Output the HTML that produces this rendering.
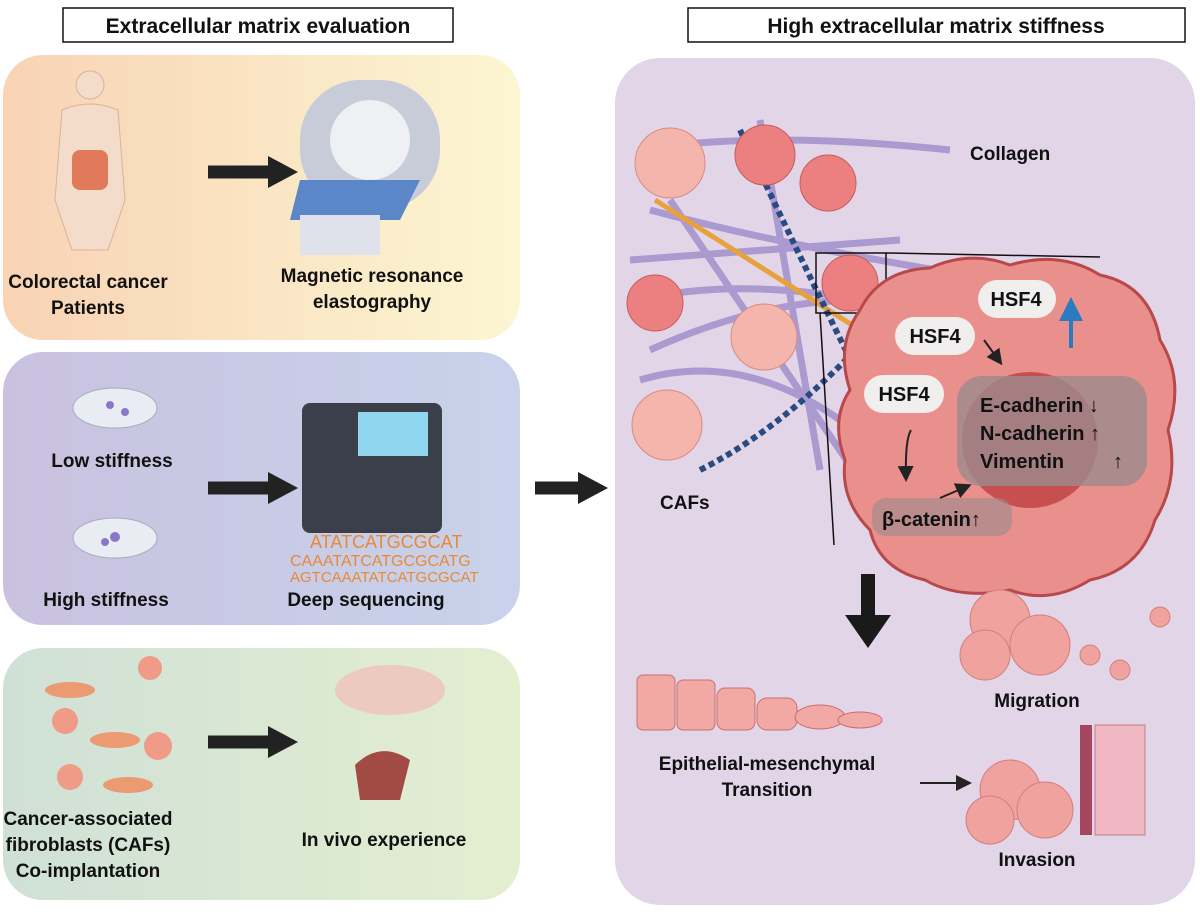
<!DOCTYPE html>
<html><head><meta charset="utf-8"><style>
body{margin:0;background:#fff}
svg{display:block;font-family:"Liberation Sans",Arial,sans-serif;font-weight:bold}
</style></head><body>
<svg width="1200" height="916" viewBox="0 0 1200 916" xmlns="http://www.w3.org/2000/svg">
<defs>
<linearGradient id="g1" x1="0" x2="1"><stop offset="0" stop-color="#f8d3b4"/><stop offset="1" stop-color="#fcf6d2"/></linearGradient>
<linearGradient id="g2" x1="0" x2="1"><stop offset="0" stop-color="#c9c1df"/><stop offset="1" stop-color="#c8d3ea"/></linearGradient>
<linearGradient id="g3" x1="0" x2="1"><stop offset="0" stop-color="#cfe0d6"/><stop offset="1" stop-color="#e4efd0"/></linearGradient>
<marker id="ah" markerWidth="8" markerHeight="8" refX="6" refY="4" orient="auto"><path d="M0,0L8,4L0,8z" fill="#222"/></marker>
<marker id="bh" markerWidth="6" markerHeight="6" refX="4" refY="3" orient="auto"><path d="M0,0L6,3L0,6z" fill="#2a7bc0"/></marker>
</defs>
<rect x="63" y="8" width="390" height="34" fill="#fff" stroke="#111" stroke-width="1.5"/>
<text x="258" y="33" font-size="21" text-anchor="middle" fill="#111">Extracellular matrix evaluation</text>
<rect x="688" y="8" width="497" height="34" fill="#fff" stroke="#111" stroke-width="1.5"/>
<text x="936" y="33" font-size="21" text-anchor="middle" fill="#111">High extracellular matrix stiffness</text>
<rect x="3" y="55" width="517" height="285" rx="40" fill="url(#g1)"/>
<rect x="3" y="352" width="517" height="273" rx="40" fill="url(#g2)"/>
<rect x="3" y="648" width="517" height="252" rx="40" fill="url(#g3)"/>
<g fill="#f4dccb" stroke="#d9b39b"><circle cx="90" cy="85" r="14"/><path d="M62,110 Q90,98 118,110 L125,200 L108,250 L72,250 L55,200Z"/></g>
<rect x="72" y="150" width="36" height="40" rx="8" fill="#e07a5a"/>
<rect x="300" y="80" width="140" height="130" rx="60" fill="#c8ccd8"/><circle cx="370" cy="140" r="40" fill="#eef0f4"/>
<path d="M300,180 L420,180 L400,220 L290,220Z" fill="#5b86c8"/><rect x="300" y="215" width="80" height="40" fill="#dfe2ea"/>
<text x="88" y="288" font-size="19" text-anchor="middle" fill="#111">Colorectal cancer</text>
<text x="88" y="314" font-size="19" text-anchor="middle" fill="#111">Patients</text>
<text x="372" y="282" font-size="19" text-anchor="middle" fill="#111">Magnetic resonance</text>
<text x="372" y="308" font-size="19" text-anchor="middle" fill="#111">elastography</text>
<path d="M208,172 H270" stroke="#222" stroke-width="13"/><path d="M268,156 L298,172 L268,188Z" fill="#222"/>
<ellipse cx="115" cy="408" rx="42" ry="20" fill="#e9ecf3" stroke="#aab"/><ellipse cx="115" cy="538" rx="42" ry="20" fill="#e9ecf3" stroke="#aab"/>
<circle cx="110" cy="405" r="4" fill="#8a78c6"/><circle cx="125" cy="412" r="4" fill="#8a78c6"/><circle cx="115" cy="537" r="5" fill="#8a78c6"/><circle cx="105" cy="542" r="4" fill="#8a78c6"/>
<text x="112" y="467" font-size="19" text-anchor="middle" fill="#111">Low stiffness</text>
<text x="106" y="606" font-size="19" text-anchor="middle" fill="#111">High stiffness</text>
<rect x="302" y="403" width="140" height="130" rx="8" fill="#3a3f4a"/><rect x="358" y="412" width="70" height="44" fill="#8fd6ee"/>
<text x="310" y="548" font-size="18" fill="#e8893a" font-weight="normal">ATATCATGCGCAT</text>
<text x="290" y="566" font-size="16" fill="#e8893a" font-weight="normal">CAAATATCATGCGCATG</text>
<text x="290" y="582" font-size="15" fill="#e8893a" font-weight="normal">AGTCAAATATCATGCGCAT</text>
<text x="366" y="606" font-size="19" text-anchor="middle" fill="#111">Deep sequencing</text>
<path d="M208,488 H270" stroke="#222" stroke-width="13"/><path d="M268,472 L298,488 L268,504Z" fill="#222"/>
<g fill="#f09a88"><circle cx="150" cy="668" r="12"/><circle cx="65" cy="721" r="13"/><circle cx="158" cy="746" r="14"/><circle cx="70" cy="777" r="13"/></g>
<g fill="#eb9a72"><ellipse cx="70" cy="690" rx="25" ry="8"/><ellipse cx="115" cy="740" rx="25" ry="8"/><ellipse cx="128" cy="785" rx="25" ry="8"/></g>
<ellipse cx="390" cy="690" rx="55" ry="25" fill="#eccac0"/><path d="M355,765 Q380,740 410,760 L400,800 L360,800Z" fill="#a24b45"/>
<text x="88" y="825" font-size="19" text-anchor="middle" fill="#111">Cancer-associated</text>
<text x="88" y="851" font-size="19" text-anchor="middle" fill="#111">fibroblasts (CAFs)</text>
<text x="88" y="877" font-size="19" text-anchor="middle" fill="#111">Co-implantation</text>
<text x="384" y="846" font-size="19" text-anchor="middle" fill="#111">In vivo experience</text>
<path d="M208,742 H270" stroke="#222" stroke-width="13"/><path d="M268,726 L298,742 L268,758Z" fill="#222"/>
<path d="M535,488 H580" stroke="#222" stroke-width="13"/><path d="M578,472 L608,488 L578,504Z" fill="#222"/>
<rect x="615" y="58" width="580" height="847" rx="45" fill="#e3d5e8"/>
<g stroke="#9c8ccb" stroke-width="7" fill="none" opacity="0.8">
<path d="M640,150 Q760,130 950,150"/><path d="M630,260 Q760,250 900,240"/><path d="M640,300 Q760,270 960,320"/><path d="M650,350 Q760,300 860,300"/><path d="M670,200 L860,480"/><path d="M760,120 L820,470"/><path d="M650,210 Q800,250 1000,280"/><path d="M640,380 Q740,350 840,420"/></g>
<path d="M655,200 L860,330" stroke="#e7a23c" stroke-width="5"/>
<path d="M740,130 Q820,300 905,470" stroke="#2a4b82" stroke-width="6" stroke-dasharray="6,4" fill="none"/>
<path d="M700,470 Q800,420 900,300" stroke="#2a4b82" stroke-width="6" stroke-dasharray="6,4" fill="none"/>
<g fill="#f4b5ad" stroke="#d88a80"><circle cx="670" cy="163" r="35"/><circle cx="764" cy="337" r="33"/><circle cx="667" cy="425" r="35"/></g>
<g fill="#ec8080" stroke="#c85a5a"><circle cx="765" cy="155" r="30"/><circle cx="828" cy="183" r="28"/><circle cx="655" cy="303" r="28"/><circle cx="850" cy="283" r="28"/></g>
<text x="970" y="160" font-size="19" fill="#111">Collagen</text>
<text x="660" y="509" font-size="19" fill="#111">CAFs</text>
<rect x="816" y="253" width="70" height="60" fill="none" stroke="#111" stroke-width="1.5"/>
<path d="M886,253 L1100,257 M820,313 L834,545" stroke="#111" stroke-width="1.5"/>
<path d="M860,310 Q880,270 930,268 Q970,250 1010,265 Q1060,250 1100,275 Q1150,285 1160,340 Q1185,380 1168,430 Q1180,480 1155,520 Q1140,570 1090,580 Q1050,605 1010,590 Q960,600 925,580 Q880,570 870,530 Q840,500 845,460 Q830,420 850,390 Q835,345 860,310Z" fill="#e98f8c" stroke="#b8484a" stroke-width="3"/>
<circle cx="1030" cy="440" r="68" fill="#c84f50"/>
<rect x="957" y="376" width="190" height="110" rx="25" fill="#9b8a8c" opacity="0.8"/>
<rect x="872" y="498" width="140" height="38" rx="14" fill="#9b8a8c" opacity="0.6"/>
<rect x="978" y="280" width="78" height="38" rx="19" fill="#f1eeee"/>
<rect x="895" y="317" width="80" height="38" rx="19" fill="#f1eeee"/>
<rect x="864" y="375" width="80" height="38" rx="19" fill="#f1eeee"/>
<text x="1016" y="306" font-size="20" text-anchor="middle" fill="#111">HSF4</text>
<text x="935" y="343" font-size="20" text-anchor="middle" fill="#111">HSF4</text>
<text x="904" y="401" font-size="20" text-anchor="middle" fill="#111">HSF4</text>
<path d="M1071,348 V305" stroke="#2a7bc0" stroke-width="4" marker-end="url(#bh)"/>
<path d="M984,340 L1000,362" stroke="#222" stroke-width="2" marker-end="url(#ah)"/>
<path d="M911,430 Q905,440 906,478" stroke="#222" stroke-width="2" fill="none" marker-end="url(#ah)"/>
<path d="M940,498 L968,486" stroke="#222" stroke-width="2" marker-end="url(#ah)"/>
<text x="980" y="412" font-size="20" fill="#111">E-cadherin ↓</text>
<text x="980" y="440" font-size="20" fill="#111">N-cadherin ↑</text>
<text x="980" y="468" font-size="20" fill="#111">Vimentin</text>
<text x="1113" y="468" font-size="20" fill="#111">↑</text>
<text x="882" y="526" font-size="20" fill="#111">β-catenin↑</text>
<rect x="861" y="574" width="14" height="45" fill="#1a1a1a"/><path d="M845,615 L891,615 L868,648Z" fill="#1a1a1a"/>
<g fill="#f2a9a5" stroke="#c86e6e"><rect x="637" y="675" width="38" height="55" rx="6"/><rect x="677" y="680" width="38" height="50" rx="6"/><rect x="717" y="688" width="38" height="42" rx="8"/><rect x="757" y="698" width="40" height="32" rx="10"/><ellipse cx="820" cy="717" rx="25" ry="12"/><ellipse cx="860" cy="720" rx="22" ry="8"/></g>
<text x="767" y="770" font-size="19" text-anchor="middle" fill="#111">Epithelial-mesenchymal</text>
<text x="767" y="796" font-size="19" text-anchor="middle" fill="#111">Transition</text>
<path d="M920,783 L968,783" stroke="#222" stroke-width="2" marker-end="url(#ah)"/>
<g fill="#f0a29e" stroke="#d17f7b"><circle cx="1000" cy="620" r="30"/><circle cx="1040" cy="645" r="30"/><circle cx="985" cy="655" r="25"/><circle cx="1090" cy="655" r="10"/><circle cx="1160" cy="617" r="10"/><circle cx="1120" cy="670" r="10"/></g>
<text x="1037" y="707" font-size="19" text-anchor="middle" fill="#111">Migration</text>
<g fill="#f0a29e" stroke="#d17f7b"><circle cx="1010" cy="790" r="30"/><circle cx="1045" cy="810" r="28"/><circle cx="990" cy="820" r="24"/></g>
<rect x="1080" y="725" width="12" height="110" fill="#a3465e"/>
<rect x="1095" y="725" width="50" height="110" fill="#efb8c2" stroke="#c47a8a"/>
<text x="1037" y="866" font-size="19" text-anchor="middle" fill="#111">Invasion</text>
</svg>
</body></html>
